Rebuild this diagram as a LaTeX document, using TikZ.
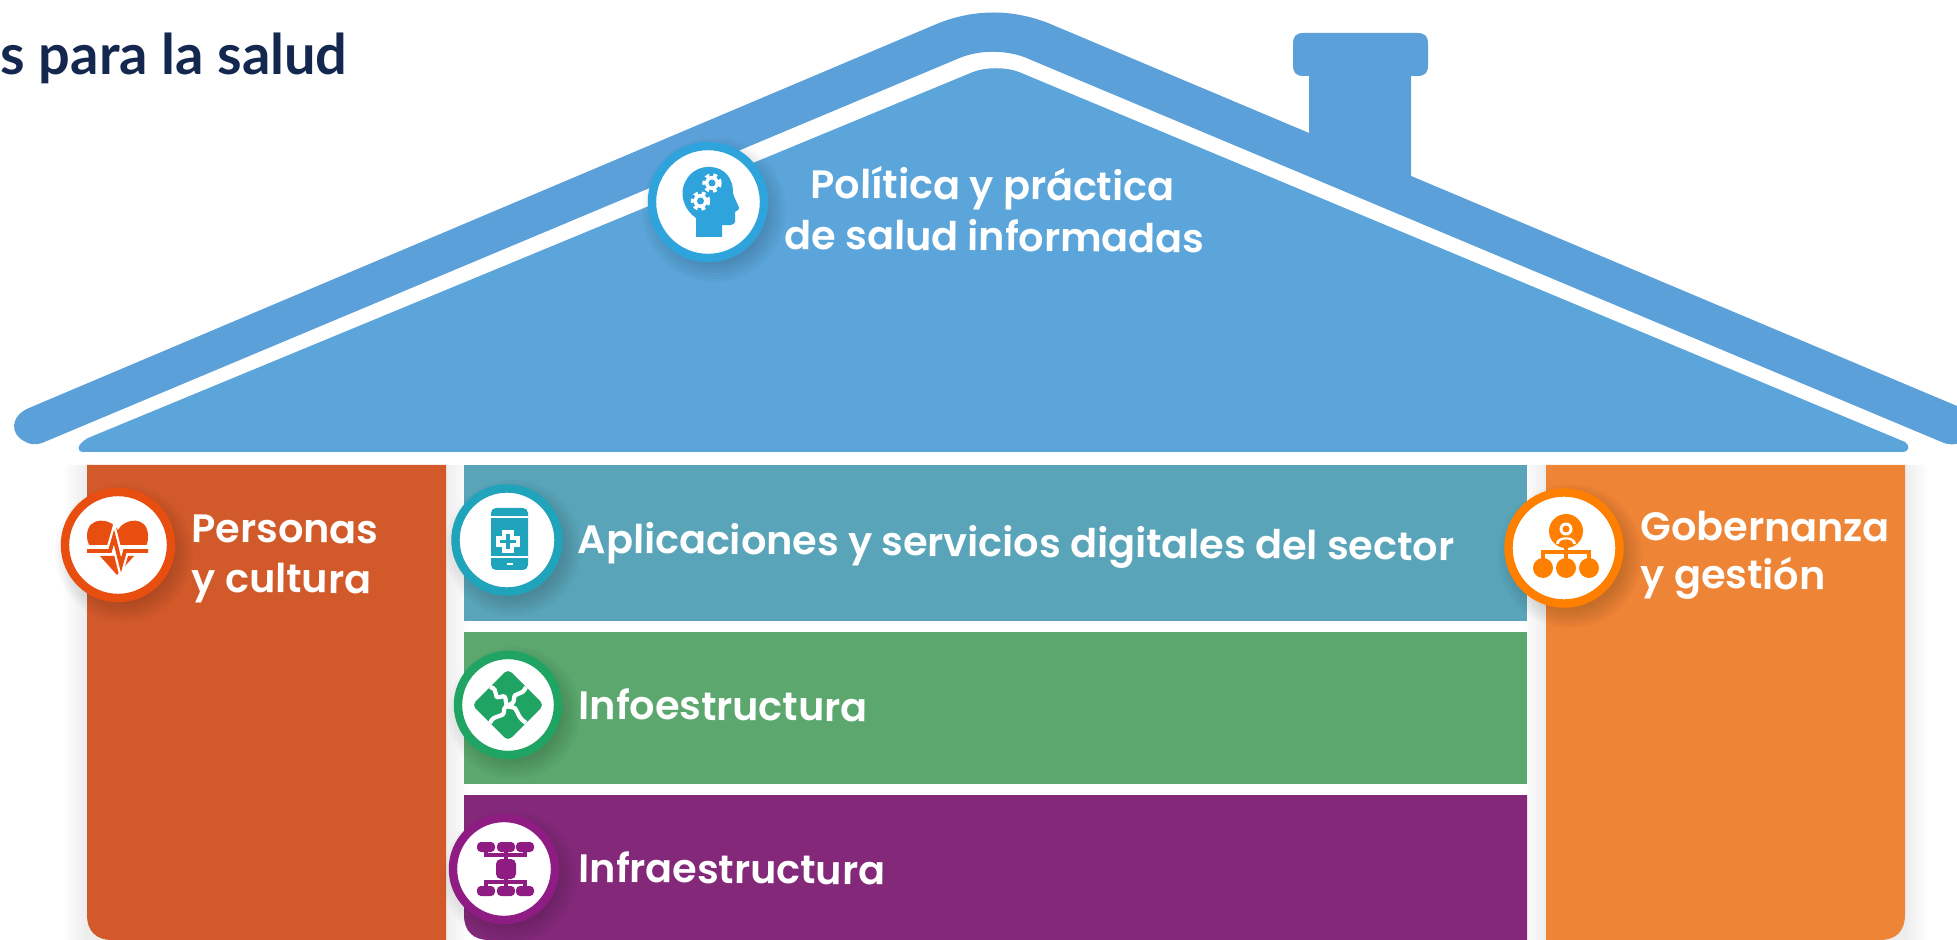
\documentclass[tikz,border=0pt]{standalone}
\usepackage{fontspec}
\setmainfont[BoldFont={Poppins SemiBold}]{Poppins}
\newfontfamily\titlefont{Lato}
\usepackage{xcolor}
\definecolor{roofband}{HTML}{5BA0D8}
\definecolor{roofbody}{HTML}{5BA5DA}
\definecolor{peoplefill}{HTML}{D25A2A}
\definecolor{appsfill}{HTML}{5AA4B9}
\definecolor{infofill}{HTML}{5BA76E}
\definecolor{infrafill}{HTML}{84297A}
\definecolor{govfill}{HTML}{EE8436}
\definecolor{brainring}{HTML}{2FA3DC}
\definecolor{heartring}{HTML}{E84E0F}
\definecolor{phonering}{HTML}{20A4BC}
\definecolor{puzzlering}{HTML}{1FA463}
\definecolor{netring}{HTML}{8E1C82}
\definecolor{govring}{HTML}{FF8000}
\definecolor{titleblue}{HTML}{14284F}
\tikzset{
	housetext/.style={anchor=base west, text=white, font=\fontsize{11.3}{15}\selectfont\bfseries, inner sep=0pt, rotate=-0.5},
	% a white disc with a coloured ring
	badge/.style={circle, draw=#1, fill=white, line width=2.4pt, inner sep=0pt},
}
% soft shadow under a badge: x, y, radius
\newcommand{\badgeshadow}[3]{
	\foreach \grow in {0,3,...,18} {
		\fill [black, opacity=0.022] (#1+6,#2+8) circle (#3-6+\grow);
	}
}
% soft shadow round a block: left, top, right, bottom
\newcommand{\blockshadow}[4]{
	\foreach \grow in {2,6,...,22} {
		\fill [black, opacity=0.012] (#1-\grow,#2) rectangle (#3+\grow,#4);
	}
}

\begin{document}
\begin{tikzpicture}[x=0.01cm, y=-0.01cm]
	\useasboundingbox (0,0) rectangle (1957,940);

	% roof
	\fill [roofband] (1293,44) .. controls (1293,36) and (1296,33) .. (1304,33) -- (1417,33) .. controls (1425,33) and (1428,36) .. (1428,44) -- (1428,65) .. controls (1428,73) and (1425,76) .. (1417,76) -- (1411,76) -- (1411,190) -- (1309,150) -- (1309,76) -- (1304,76) .. controls (1296,76) and (1293,73) .. (1293,65) -- cycle;
	\fill [roofband] (29,408) -- (939,23) .. controls (975,9) and (1012,9) .. (1048,23) -- (1957,406) .. controls (1975,416) and (1975,436) .. (1962,442) .. controls (1955,445) and (1950,445) .. (1944,443) -- (1024,57) .. controls (1004,50) and (982,50) .. (962,57) -- (42,443) .. controls (36,445) and (30,445) .. (24,441) .. controls (10,434) and (10,416) .. (29,408) -- cycle;
	\fill [roofbody] (88,438) -- (973,72) .. controls (986,67) and (1006,67) .. (1019,72) -- (1905,442) .. controls (1910,445) and (1910,452) .. (1902,452) -- (84,452) .. controls (76,452) and (76,445) .. (88,438) -- cycle;

	% walls
	\blockshadow{87}{465}{446}{940}
	\blockshadow{1546}{465}{1905}{940}
	\fill [peoplefill] (87,465) -- (446,465) -- (446,940) -- (112,940) .. controls (96,940) and (87,931) .. (87,915) -- cycle;
	\fill [appsfill] (464,465) rectangle (1527,621);
	\fill [infofill] (464,632) rectangle (1527,784);
	\fill [infrafill] (464,795) -- (1527,795) -- (1527,940) -- (489,940) .. controls (473,940) and (464,931) .. (464,915) -- cycle;
	\fill [govfill] (1546,465) -- (1905,465) -- (1905,915) .. controls (1905,931) and (1896,940) .. (1880,940) -- (1546,940) -- cycle;

	% badges
	\badgeshadow{708}{202}{60}
	\badgeshadow{118}{545}{57}
	\badgeshadow{507}{540}{56}
	\badgeshadow{508}{705}{54}
	\badgeshadow{504}{869}{55}
	\badgeshadow{1564}{548}{60}
	\node [badge=brainring, minimum size=1.12cm] (brain) at (708,202) {};
	\node [badge=heartring, minimum size=1.06cm] (heart) at (118,545) {};
	\node [badge=phonering, minimum size=1.03cm] (phone) at (507,540) {};
	\node [badge=puzzlering, minimum size=1.00cm] (puzzle) at (508,705) {};
	\node [badge=netring, minimum size=1.02cm] (net) at (504,869) {};
	\node [badge=govring, minimum size=1.11cm] (gov) at (1564,548) {};

	% head with gears
	\begin{scope}[shift={(brain.center)}]
		\fill [brainring] (-12,35) -- (-12,16) .. controls (-24,8) and (-27,-6) .. (-25,-14) .. controls (-21,-30) and (-8,-36) .. (3,-35) .. controls (18,-34) and (25,-22) .. (25,-10) .. controls (25,-6) and (31,4) .. (31,6) .. controls (31,9) and (27,9) .. (27,10) -- (27,20) .. controls (26,24) and (20,23) .. (14,23) -- (14,35) -- cycle;
		\foreach \gearx/\geary in {4/-19, -7.5/-1} {
			\draw [white, line width=1pt, dash pattern=on 1.1pt off 1.1pt] (\gearx,\geary) circle (8);
			\fill [white] (\gearx,\geary) circle (7);
			\fill [brainring] (\gearx,\geary) circle (3.5);
		}
	\end{scope}

	% heart with pulse
	\begin{scope}[shift={(heart.center)}]
		\fill [heartring] (0,-15) .. controls (-6,-27) and (-31,-30) .. (-31,-9) .. controls (-31,-3) and (-29,0) .. (-27,2) -- (27,2) .. controls (29,0) and (30,-3) .. (30,-9) .. controls (30,-30) and (6,-27) .. (0,-15) -- cycle;
		\fill [heartring] (-18,11) -- (16,11) -- (-1,30) -- cycle;
		\draw [white, line width=3pt] (-32,5) -- (32,5);
		\draw [white, line width=2.4pt] (-8,6) -- (-4,-8) -- (3,20) -- (7,6);
		\draw [heartring, line width=1.1pt] (-31,6) -- (-8,6) -- (-4,-8) -- (3,20) -- (7,6) -- (30,6);
	\end{scope}

	% phone with cross
	\begin{scope}[shift={(phone.center)}]
		\fill [phonering, rounded corners=0.05cm] (-16,-32) rectangle (21,30);
		\fill [white] (-16,-24) rectangle (21,-22);
		\fill [white] (-16,16) rectangle (21,18);
		\fill [white] (0,23) rectangle (6,25);
		\draw [white, line width=1pt, fill=phonering] (-3,-8) -- (5,-8) -- (5,-2) -- (11,-2) -- (11,5) -- (5,5) -- (5,11) -- (-3,11) -- (-3,5) -- (-9,5) -- (-9,-2) -- (-3,-2) -- cycle;
	\end{scope}

	% puzzle pieces
	\begin{scope}[shift={(puzzle.center)}]
		\fill [puzzlering, rounded corners=0.05cm] (0,-36) -- (36,0) -- (0,36) -- (-36,0) -- cycle;
		\draw [white, line width=1.2pt] (-18,-18) .. controls (-8,-16) and (-16,-6) .. (-8,-8) .. controls (2,-12) and (-6,2) .. (2,2) .. controls (12,2) and (6,10) .. (18,18);
		\draw [white, line width=1.2pt] (18,-18) .. controls (14,-8) and (6,-14) .. (6,-6) .. controls (6,2) and (-4,-2) .. (-4,6) .. controls (-4,14) and (-14,8) .. (-18,18);
	\end{scope}

	% network chart
	\begin{scope}[shift={(net.center)}]
		\foreach \rowy in {-22,22} {
			\foreach \pillx in {-18,2,21} {
				\fill [netring, rounded corners=0.04cm] (\pillx-9,\rowy-5) rectangle (\pillx+9,\rowy+5);
			}
		}
		\draw [netring, line width=1.4pt] (-18,-22) -- (-18,-14) -- (21,-14) -- (21,-22);
		\draw [netring, line width=1.4pt] (2,-22) -- (2,22);
		\draw [netring, line width=1.4pt] (-18,22) -- (-18,13) -- (21,13) -- (21,22);
		\fill [netring, rounded corners=0.05cm] (-8,-10) rectangle (12,10);
	\end{scope}

	% people chart
	\begin{scope}[shift={(gov.center)}]
		\fill [govring] (2,-17) circle (17);
		\fill [white] (2,-19) circle (6.5);
		\fill [govring] (2,-19) circle (3.5);
		\fill [white] (-8,-4) .. controls (-8,-13) and (12,-13) .. (12,-4) -- cycle;
		\fill [govring] (-5,-4) .. controls (-5,-10) and (9,-10) .. (9,-4) -- cycle;
		\draw [govring, line width=1.2pt] (2,-5) -- (2,20);
		\draw [govring, line width=1.2pt] (-21,20) -- (-21,4) -- (25,4) -- (25,20);
		\foreach \dotx in {-21,2,25} {
			\fill [govring] (\dotx,20) circle (10);
		}
	\end{scope}

	% texts
	\node [anchor=base west, inner sep=0pt, text=titleblue, font=\titlefont\fontsize{15.9}{18}\selectfont\bfseries] (title) at (0,75) {s para la salud};
	\node [housetext] (policy1) at (810,198) {Política y práctica};
	\node [housetext] (policy2) at (784,249) {de salud informadas};
	\node [housetext] (people1) at (191,542) {Personas};
	\node [housetext] (people2) at (191,592) {y cultura};
	\node [housetext] (apps) at (577,553) {Aplicaciones y servicios digitales del sector};
	\node [housetext] (info) at (578,719) {Infoestructura};
	\node [housetext] (infra) at (578,882) {Infraestructura};
	\node [housetext] (gov1) at (1640,540) {Gobernanza};
	\node [housetext] (gov2) at (1640,588) {y gestión};
\end{tikzpicture}
\end{document}
